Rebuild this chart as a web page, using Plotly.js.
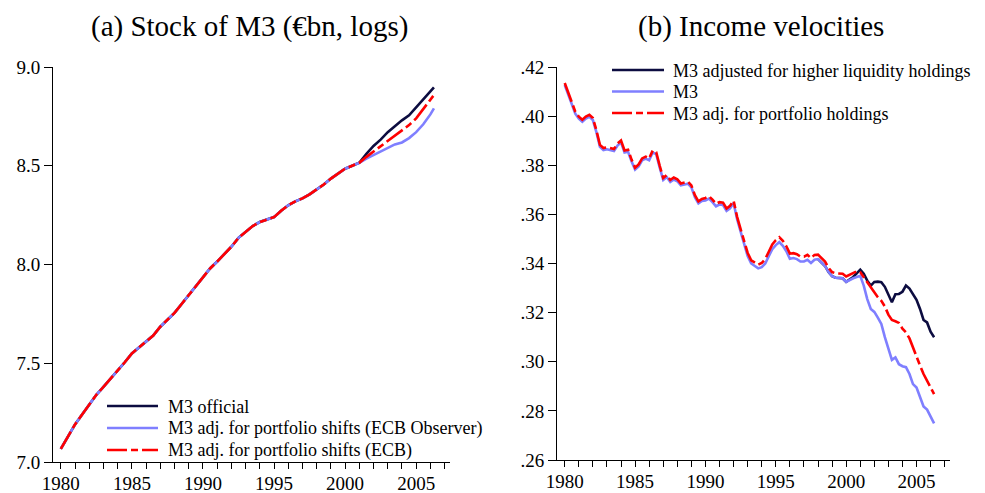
<!DOCTYPE html>
<html>
<head>
<meta charset="utf-8">
<script src="https://cdn.plot.ly/plotly-3.0.1.min.js"></script>
<style>
html,body{margin:0;padding:0;background:#fff;}
#chart{width:985px;height:493px;}
</style>
</head>
<body>
<div id="chart"></div>
<script>
// ---------- Panel (a): Stock of M3 (€bn, logs), half-yearly ----------
const stockYearsCommon = [1980.0,1980.5,1981.0,1981.5,1982.0,1982.5,1983.0,1983.5,1984.0,1984.5,
  1985.0,1985.5,1986.0,1986.5,1987.0,1987.5,1988.0,1988.5,1989.0,1989.5,
  1990.0,1990.5,1991.0,1991.5,1992.0,1992.5,1993.0,1993.5,1994.0,1994.5,
  1995.0,1995.5,1996.0,1996.5,1997.0,1997.5,1998.0,1998.5,1999.0,1999.5,
  2000.0,2000.5,2001.0];
const stockCommon = [7.066,7.13,7.19,7.24,7.29,7.34,7.38,7.42,7.46,7.505,
  7.55,7.58,7.61,7.64,7.685,7.72,7.755,7.80,7.845,7.895,
  7.94,7.98,8.015,8.05,8.09,8.135,8.165,8.195,8.215,8.226,
  8.24,8.272,8.30,8.32,8.335,8.355,8.38,8.405,8.435,8.46,
  8.485,8.50,8.515];
const stockYearsTail = [2001.5,2002.0,2002.5,2003.0,2003.5,2004.0,2004.5,2005.0,2005.5,2006.0,2006.25];
const stockOfficialTail  = [8.56,8.60,8.632,8.67,8.70,8.73,8.755,8.795,8.84,8.875,8.897];
const stockObserverTail  = [8.536,8.555,8.573,8.592,8.608,8.618,8.64,8.67,8.71,8.76,8.791];
const stockEcbTail       = [8.545,8.572,8.598,8.625,8.652,8.68,8.706,8.74,8.785,8.835,8.858];

// ---------- Panel (b): Income velocities, quarterly 1980Q1-2006Q2 ----------
const velStartYear = 1980;
const velM3 = [
  .4127,.4090,.4050,.4010, .3990,.3977,.3990,.3997, .3984,.3935,.3875,.3862,
  .3865,.3862,.3858,.3880, .3893,.3852,.3855,.3815, .3782,.3795,.3820,.3827,
  .3820,.3852,.3845,.3790, .3740,.3752,.3732,.3742, .3735,.3718,.3722,.3725,
  .3710,.3670,.3645,.3655, .3657,.3664,.3650,.3633, .3640,.3638,.3614,.3625,
  .3646,.3580,.3530,.3475, .3430,.3400,.3390,.3380, .3385,.3400,.3430,.3458,
  .3475,.3487,.3472,.3450, .3419,.3422,.3418,.3408, .3408,.3415,.3402,.3415,
  .3418,.3405,.3390,.3365, .3348,.3342,.3342,.3340, .3325,.3333,.3340,.3345,
  .3350,.3310,.3255,.3215, .3203,.3180,.3154,.3100, .3050,.3008,.3018,.2990,
  .2982,.2978,.2950,.2909, .2895,.2860,.2818,.2805, .2775,.2749];
const velPortfolio = [
  .4135,.4098,.4058,.4018, .3998,.3985,.3998,.4005, .3992,.3943,.3883,.3870,
  .3873,.3870,.3866,.3888, .3901,.3860,.3863,.3823, .3790,.3803,.3828,.3835,
  .3828,.3860,.3853,.3798, .3748,.3760,.3740,.3750, .3743,.3726,.3730,.3733,
  .3718,.3678,.3653,.3663, .3667,.3674,.3660,.3643, .3650,.3648,.3624,.3635,
  .3656,.3590,.3540,.3487, .3443,.3413,.3405,.3395, .3402,.3418,.3448,.3478,
  .3495,.3507,.3492,.3470, .3440,.3442,.3438,.3428, .3428,.3435,.3422,.3435,
  .3436,.3422,.3408,.3382, .3365,.3360,.3360,.3358, .3347,.3354,.3360,.3368,
  .3365,.3345,.3320,.3300, .3280,.3263,.3248,.3225, .3192,.3170,.3165,.3158,
  .3135,.3120,.3095,.3058, .3015,.2985,.2950,.2922, .2898,.2868];
const velLiqStartYear = 1998;
const velLiquidity = [
  .3418,.3405,.3390,.3365, .3348,.3342,.3342,.3340, .3325,.3335,.3345,.3360,
  .3375,.3358,.3330,.3310, .3325,.3326,.3324,.3305, .3270,.3242,.3275,.3276,
  .3285,.3310,.3298,.3276, .3252,.3215,.3170,.3160, .3122,.3100];

const xTickYears = [1980,1985,1990,1995,2000,2005];
const velTickVals = [.26,.28,.30,.32,.34,.36,.38,.40,.42];
const velTickText = ['.26','.28','.30','.32','.34','.36','.38','.40','.42'];
const stockTickVals = [7.0,7.5,8.0,8.5,9.0];

const panelTitles = ['(a) Stock of M3 (€bn, logs)', '(b) Income velocities'];
const namesA = ['M3 official','M3 adj. for portfolio shifts (ECB Observer)','M3 adj. for portfolio shifts (ECB)'];
const namesB = ['M3 adjusted for higher liquidity holdings','M3','M3 adj. for portfolio holdings'];

// quarter dates
function quarters(start, n){ const a=[]; for(let i=0;i<n;i++) a.push(start + i/4); return a; }
const velYears = quarters(velStartYear, velM3.length);
const velLiqYears = quarters(velLiqStartYear, velLiquidity.length);

const NAVY = '#0c0c40', BLUE = '#7f7fff', RED = '#ff0000';
const DASH = '20px,4px,7px,4px';
const FONT = 'Liberation Serif, Times New Roman, serif';
const LW = 2.6;

const styles = [
  {color:NAVY, width:LW},
  {color:BLUE, width:LW},
  {color:RED, width:LW, dash:DASH}
];

const stockX = stockYearsCommon.concat(stockYearsTail);
const traces = [
  {x: stockX, y: stockCommon.concat(stockOfficialTail), name: namesA[0], line:styles[0], xaxis:'x', yaxis:'y'},
  {x: stockX, y: stockCommon.concat(stockObserverTail), name: namesA[1], line:styles[1], xaxis:'x', yaxis:'y'},
  {x: stockX, y: stockCommon.concat(stockEcbTail), name: namesA[2], line:styles[2], xaxis:'x', yaxis:'y'},
  {x: velLiqYears, y: velLiquidity, name: namesB[0], line:styles[0], xaxis:'x2', yaxis:'y2'},
  {x: velYears, y: velM3, name: namesB[1], line:styles[1], xaxis:'x2', yaxis:'y2'},
  {x: velYears, y: velPortfolio, name: namesB[2], line:styles[2], xaxis:'x2', yaxis:'y2'}
].map(t => Object.assign({type:'scatter', mode:'lines', showlegend:false, hoverinfo:'skip'}, t));

const W = 985, H = 493;
const px = v => v / W, py = v => 1 - v / H;

const xBase = {
  range:[1979.45, 2007.38], showgrid:false, zeroline:false, showline:true, linecolor:'#000', linewidth:1,
  ticks:'outside', ticklen:6, tickwidth:1, tickcolor:'#000', ticklabelstandoff:-2,
  tickmode:'array', tickvals:xTickYears, ticktext:xTickYears.map(String),
  minor:{dtick:1, tick0:1980, ticks:'outside', ticklen:6, tickwidth:1, tickcolor:'#000', showgrid:false},
  tickfont:{family:FONT, size:19, color:'#000'}, automargin:false, fixedrange:true
};
const yBase = {
  showgrid:false, zeroline:false, showline:true, linecolor:'#000', linewidth:1,
  ticks:'outside', ticklen:8, tickwidth:1, tickcolor:'#000',
  tickfont:{family:FONT, size:19, color:'#000'}, automargin:false, fixedrange:true
};

// legend boxes (pixel placement of the key, drawn as paper-referenced key lines + text)
const legendBoxes = [
  {names:namesA, x0:107, x1:158, tx:166, y0:406, dy:22},
  {names:namesB, x0:612, x1:664, tx:671, y0:70, dy:21.5}
];
const shapes = [], annotations = [];
legendBoxes.forEach(b => {
  b.names.forEach((n, i) => {
    const yy = b.y0 + i * b.dy;
    shapes.push({type:'line', xref:'paper', yref:'paper', x0:px(b.x0), x1:px(b.x1), y0:py(yy), y1:py(yy),
                 line:Object.assign({}, styles[i])});
    annotations.push({text:n, xref:'paper', yref:'paper', x:px(b.tx), y:py(yy + 0.5), xanchor:'left', yanchor:'middle',
                      showarrow:false, font:{family:FONT, size:18, color:'#000'}});
  });
});
annotations.push(
  {text:panelTitles[0], x:px(250), y:py(26), xref:'paper', yref:'paper', xanchor:'center', yanchor:'middle',
   showarrow:false, font:{family:FONT, size:29, color:'#000'}},
  {text:panelTitles[1], x:px(761), y:py(26), xref:'paper', yref:'paper', xanchor:'center', yanchor:'middle',
   showarrow:false, font:{family:FONT, size:29, color:'#000'}}
);

const layout = {
  width:W, height:H, margin:{l:0,r:0,t:0,b:0}, paper_bgcolor:'#fff', plot_bgcolor:'#fff',
  font:{family:FONT, color:'#000'}, showlegend:false,
  xaxis: Object.assign({}, xBase, {domain:[px(53), px(450)], anchor:'y'}),
  yaxis: Object.assign({}, yBase, {domain:[py(462), py(67)], range:[7.0, 9.0], anchor:'x',
          tickmode:'array', tickvals:stockTickVals, ticktext:stockTickVals.map(v=>v.toFixed(1))}),
  xaxis2: Object.assign({}, xBase, {domain:[px(557), px(950)], anchor:'y2'}),
  yaxis2: Object.assign({}, yBase, {domain:[py(460), py(67)], range:[0.26, 0.42], anchor:'x2',
          tickmode:'array', tickvals:velTickVals, ticktext:velTickText}),
  shapes: shapes,
  annotations: annotations
};

Plotly.newPlot('chart', traces, layout, {staticPlot:true, displayModeBar:false});
</script>
</body>
</html>
